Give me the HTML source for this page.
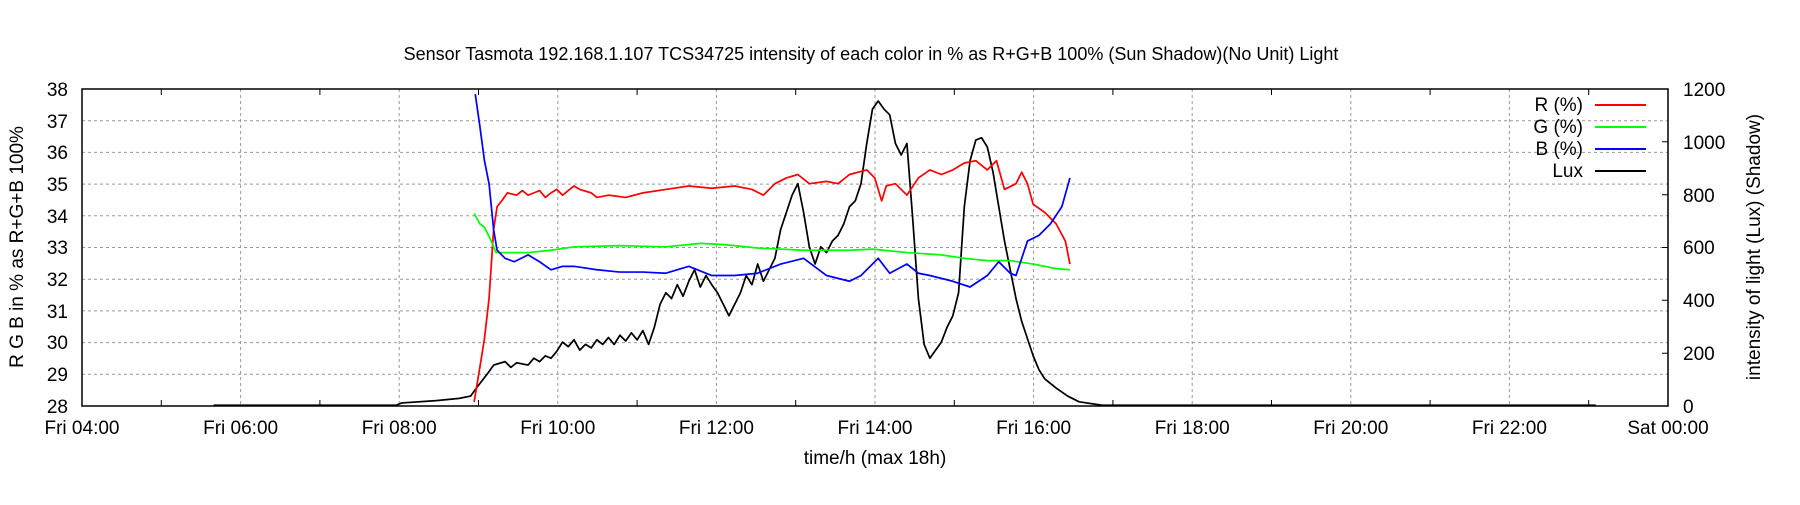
<!DOCTYPE html>
<html><head><meta charset="utf-8"><style>
html,body{margin:0;padding:0;background:#fff;}
svg text{font-family:"Liberation Sans",sans-serif;fill:#000;}
</style></head><body>
<svg width="1800" height="500" viewBox="0 0 1800 500" xmlns="http://www.w3.org/2000/svg">
<rect width="1800" height="500" fill="#fff"/>
<text x="871" y="60" font-size="18" text-anchor="middle">Sensor Tasmota 192.168.1.107 TCS34725 intensity of each color in % as R+G+B 100% (Sun Shadow)(No Unit) Light</text>
<g stroke="#999" stroke-width="1" stroke-dasharray="3,3" fill="none">
<path d="M82 120.7H1668M82 152.4H1668M82 184.1H1668M82 215.8H1668M82 247.5H1668M82 279.2H1668M82 310.9H1668M82 342.6H1668M82 374.3H1668"/>
<path d="M240.6 89V406M399.2 89V406M557.8 89V406M716.4 89V406M875 89V406M1033.6 89V406M1192.2 89V406M1350.8 89V406M1509.4 89V406"/>
</g>
<g stroke="#000" stroke-width="1" fill="none">
<path d="M161.3 406v-6M161.3 89v6M319.9 406v-6M319.9 89v6M478.5 406v-6M478.5 89v6M637.1 406v-6M637.1 89v6M795.7 406v-6M795.7 89v6M954.3 406v-6M954.3 89v6M1112.9 406v-6M1112.9 89v6M1271.5 406v-6M1271.5 89v6M1430.1 406v-6M1430.1 89v6M1588.7 406v-6M1588.7 89v6"/>
<path d="M1668 353.2h-6M1668 300.3h-6M1668 247.5h-6M1668 194.7h-6M1668 141.8h-6"/>
</g>
<rect x="82" y="89" width="1586" height="317" fill="none" stroke="#000" stroke-width="1.5"/>
<g font-size="19" text-anchor="end">
<text x="68" y="96">38</text><text x="68" y="128">37</text><text x="68" y="159">36</text><text x="68" y="191">35</text><text x="68" y="223">34</text><text x="68" y="254">33</text><text x="68" y="286">32</text><text x="68" y="318">31</text><text x="68" y="349">30</text><text x="68" y="381">29</text><text x="68" y="413">28</text>
</g>
<g font-size="19">
<text x="1683" y="96">1200</text><text x="1683" y="149">1000</text><text x="1683" y="202">800</text><text x="1683" y="254">600</text><text x="1683" y="307">400</text><text x="1683" y="360">200</text><text x="1683" y="413">0</text>
</g>
<g font-size="19" text-anchor="middle">
<text x="82" y="434">Fri 04:00</text><text x="240.6" y="434">Fri 06:00</text><text x="399.2" y="434">Fri 08:00</text><text x="557.8" y="434">Fri 10:00</text><text x="716.4" y="434">Fri 12:00</text><text x="875" y="434">Fri 14:00</text><text x="1033.6" y="434">Fri 16:00</text><text x="1192.2" y="434">Fri 18:00</text><text x="1350.8" y="434">Fri 20:00</text><text x="1509.4" y="434">Fri 22:00</text><text x="1668" y="434">Sat 00:00</text>
<text x="875" y="464">time/h (max 18h)</text>
<text transform="translate(23,247) rotate(-90)">R G B in % as R+G+B 100%</text>
<text transform="translate(1760,247) rotate(-90)">intensity of light (Lux) (Shadow)</text>
</g>
<g font-size="19" text-anchor="end">
<text x="1583" y="111">R (%)</text><text x="1583" y="133">G (%)</text><text x="1583" y="155">B (%)</text><text x="1583" y="177">Lux</text>
</g>
<g stroke-width="2">
<line x1="1595" y1="105" x2="1646" y2="105" stroke="#f00"/>
<line x1="1595" y1="127" x2="1646" y2="127" stroke="#0f0"/>
<line x1="1595" y1="149" x2="1646" y2="149" stroke="#00f"/>
<line x1="1595" y1="171" x2="1646" y2="171" stroke="#000"/>
</g>
<g transform="scale(1.148)" fill="none" stroke-width="1.5" stroke-linejoin="round">
<polyline stroke="#000" points="186,353 345,353 350,351 380,349 400,347 410,345 415,338 425,325 430,318 440,315 445,320 450,316 460,318 465,312 470,315 475,310 480,312 485,306 490,298 495,302 500,296 505,305 510,300 515,303 520,296 525,300 530,294 535,300 540,292 545,297 550,290 555,296 560,288 565,300 570,285 575,265 580,255 585,260 590,248 595,258 600,245 605,235 610,250 615,240 620,248 625,255 630,265 635,275 640,265 645,255 650,240 655,248 660,230 665,245 670,235 675,225 680,200 685,185 690,170 695,160 700,185 705,215 710,230 715,215 720,220 725,210 730,205 735,195 740,180 745,175 750,160 755,125 760,95 765,88 770,95 775,100 780,125 785,135 790,125 795,190 800,260 805,300 810,312 815,305 820,298 825,285 830,275 835,255 840,180 845,140 850,122 855,120 860,128 865,150 870,180 875,210 880,235 885,260 890,280 895,295 900,310 905,322 910,330 920,338 930,345 940,350 960,353 1390,353"/>
<polyline stroke="#f00" points="413,350 418,320 422,295 426,260 430,200 433,180 437,175 442,168 450,170 455,166 460,170 465,168 470,166 475,172 480,168 485,165 490,170 495,166 500,162 505,165 515,168 520,172 530,170 545,172 560,168 580,165 600,162 620,164 640,162 655,165 665,170 675,160 685,155 695,152 705,160 720,158 730,160 740,152 755,148 762,155 768,175 772,162 780,160 790,170 800,155 810,148 820,152 830,148 840,142 850,140 860,148 868,140 875,165 885,160 890,150 895,160 900,178 910,185 920,195 928,210 932,230"/>
<polyline stroke="#0f0" points="413,186 418,195 422,198 428,210 432,220 440,220 460,220 480,218 500,215 540,214 580,215 610,212 630,213 660,216 700,218 740,218 760,217 790,220 820,222 840,225 860,227 880,227 900,230 920,234 932,235"/>
<polyline stroke="#00f" points="414,82 418,110 422,140 426,160 428,180 430,200 433,218 440,225 448,228 460,222 470,228 480,235 490,232 500,232 520,235 540,237 560,237 580,238 600,232 620,240 640,240 660,238 680,230 700,225 720,240 740,245 750,240 765,225 775,238 790,230 800,238 810,240 830,245 845,250 860,240 870,228 880,238 885,240 895,210 905,205 915,195 925,180 932,155"/>
</g>
</svg>
</body></html>
